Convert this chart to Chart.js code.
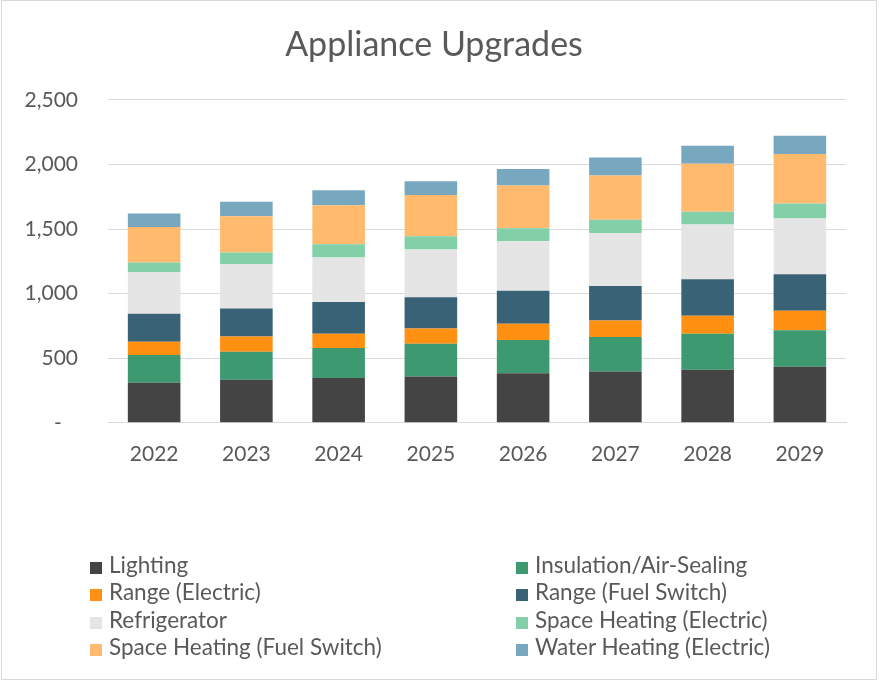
<!DOCTYPE html>
<html>
<head>
<meta charset="utf-8">
<script src="https://cdn.jsdelivr.net/npm/chart.js@4"></script>
<style>
  html, body { margin: 0; padding: 0; background: #fff; }
  #wrap { position: relative; width: 879px; height: 681px; overflow: hidden; }
  #frame { position: absolute; left: 1px; top: 0; width: 876px; height: 680px; border: 1px solid #d9d9d9; box-sizing: border-box; }
  #chart { position: absolute; left: 0; top: 0; }
  #legend { position: absolute; left: 0; top: 551px; width: 879px; font-family: Lato, sans-serif; font-size: 22.5px; color: #595959; }
  .col { position: absolute; top: 0; }
  .item { height: 27.3px; line-height: 27.3px; white-space: nowrap; }
  .box { display: inline-block; width: 12px; height: 12px; margin-right: 7px; vertical-align: -1px; }
</style>
</head>
<body>
<div id="wrap">
  <div id="frame"></div>
  <canvas id="chart" width="879" height="681"></canvas>
  <div id="legend"></div>
</div>
<script>
var years = ['2022', '2023', '2024', '2025', '2026', '2027', '2028', '2029'];

var lighting      = [310, 333, 346, 359, 384, 398, 411, 434];
var insulation    = [214, 217, 232, 253, 256, 266, 279, 282];
var rangeElectric = [104, 117, 112, 117, 127, 127, 139, 152];
var rangeFuel     = [217, 217, 245, 242, 256, 268, 282, 282];
var refrigerator  = [320, 343, 344, 370, 382, 411, 424, 431];
var spaceElectric = [75, 91, 103, 103, 101, 101, 98, 117];
var spaceFuel     = [276, 281, 302, 319, 331, 344, 372, 382];
var waterElectric = [104, 111, 116, 107, 127, 139, 139, 142];

var seriesNames = ['Lighting', 'Insulation/Air-Sealing', 'Range (Electric)', 'Range (Fuel Switch)',
  'Refrigerator', 'Space Heating (Electric)', 'Space Heating (Fuel Switch)', 'Water Heating (Electric)'];
var seriesData = [lighting, insulation, rangeElectric, rangeFuel, refrigerator, spaceElectric, spaceFuel, waterElectric];
var seriesColors = ['#444444', '#3d9970', '#ff9012', '#3a6276', '#e5e5e5', '#82cfa8', '#ffba6e', '#78a8c0'];

var textColor = '#595959';
var font = 'Lato, sans-serif';

var datasets = seriesNames.map(function(name, i) {
  return {
    label: name,
    data: seriesData[i],
    backgroundColor: seriesColors[i],
    borderWidth: 0,
    barPercentage: 0.57,
    categoryPercentage: 1
  };
});

new Chart(document.getElementById('chart'), {
  type: 'bar',
  data: { labels: years, datasets: datasets },
  options: {
    responsive: false,
    animation: false,
    layout: { padding: { left: 22, right: 33, top: 25, bottom: 195 } },
    plugins: {
      legend: { display: false },
      tooltip: { enabled: false },
      title: {
        display: true,
        text: 'Appliance Upgrades',
        color: textColor,
        font: { family: font, size: 34, weight: 'normal' },
        padding: { top: 0, bottom: 34 }
      }
    },
    scales: {
      x: {
        stacked: true,
        grid: { display: false, drawTicks: false },
        border: { display: true, color: '#d9d9d9', width: 1 },
        ticks: { color: textColor, font: { family: font, size: 21 }, padding: 19 }
      },
      y: {
        stacked: true,
        min: 0,
        max: 2500,
        // fixed axis width so the plot starts where the original does
        afterFit: function(scale) { scale.width = 86; },
        grid: { color: '#d9d9d9', drawTicks: false },
        border: { display: false },
        ticks: {
          stepSize: 500,
          color: textColor,
          font: { family: font, size: 21 },
          padding: 30,
          callback: function(v) { return v === 0 ? '-   ' : v.toLocaleString('en-US'); }
        }
      }
    }
  }
});

// two-column legend, filled row by row like the original
var legendEl = document.getElementById('legend');
var cols = [document.createElement('div'), document.createElement('div')];
cols[0].className = 'col'; cols[0].style.left = '90px';
cols[1].className = 'col'; cols[1].style.left = '516px';
seriesNames.forEach(function(name, i) {
  var item = document.createElement('div');
  item.className = 'item';
  item.innerHTML = '<span class="box" style="background:' + seriesColors[i] + '"></span>' + name;
  cols[i % 2].appendChild(item);
});
legendEl.appendChild(cols[0]);
legendEl.appendChild(cols[1]);
</script>
</body>
</html>
